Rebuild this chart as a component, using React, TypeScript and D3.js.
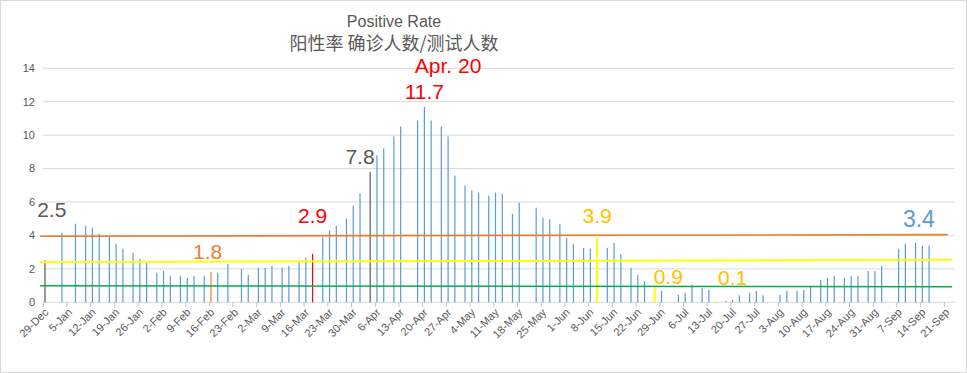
import React from 'react';
import * as d3 from 'd3';

// dates as shown on the chart (axis uses a non-leap calendar)
const dates = [
  '29-Dec', '3-Jan', '7-Jan', '10-Jan', '12-Jan', '14-Jan', '17-Jan', '19-Jan', '21-Jan', '24-Jan',
  '26-Jan', '28-Jan', '31-Jan', '2-Feb', '4-Feb', '7-Feb', '9-Feb', '11-Feb', '14-Feb', '16-Feb',
  '18-Feb', '21-Feb', '25-Feb', '27-Feb', '2-Mar', '4-Mar', '6-Mar', '9-Mar', '11-Mar', '14-Mar',
  '16-Mar', '18-Mar', '21-Mar', '23-Mar', '25-Mar', '28-Mar', '30-Mar', '1-Apr', '4-Apr', '6-Apr',
  '8-Apr', '11-Apr', '13-Apr', '18-Apr', '20-Apr', '22-Apr', '25-Apr', '27-Apr', '29-Apr', '2-May',
  '4-May', '6-May', '9-May', '11-May', '13-May', '16-May', '18-May', '23-May', '25-May', '27-May',
  '30-May', '1-Jun', '3-Jun', '6-Jun', '8-Jun', '10-Jun', '13-Jun', '15-Jun', '17-Jun', '20-Jun',
  '22-Jun', '24-Jun', '27-Jun', '29-Jun', '4-Jul', '6-Jul', '8-Jul', '11-Jul', '13-Jul', '15-Jul',
  '18-Jul', '20-Jul', '22-Jul', '25-Jul', '27-Jul', '29-Jul', '3-Aug', '5-Aug', '8-Aug', '10-Aug',
  '12-Aug', '15-Aug', '17-Aug', '19-Aug', '22-Aug', '24-Aug', '26-Aug', '29-Aug', '31-Aug', '2-Sep',
  '7-Sep', '9-Sep', '12-Sep', '14-Sep', '16-Sep',
];

// positive rate, %
const rates = [
  2.5, 4.16, 4.7, 4.58, 4.46, 4.1, 3.94, 3.5, 3.2, 2.96,
  2.6, 2.36, 1.76, 1.88, 1.58, 1.58, 1.46, 1.58, 1.58, 1.8,
  1.76, 2.3, 2.0, 1.64, 2.06, 2.06, 2.18, 2.06, 2.18, 2.48,
  2.66, 2.9, 3.88, 4.3, 4.58, 5.0, 5.78, 6.52, 7.8, 8.8,
  9.2, 9.92, 10.52, 10.88, 11.7, 10.88, 10.52, 9.92, 7.58, 6.98,
  6.68, 6.56, 6.38, 6.56, 6.5, 5.3, 5.96, 5.66, 5.06, 4.98,
  4.7, 3.86, 3.5, 3.26, 3.22, 3.9, 3.26, 3.56, 2.9, 2.06,
  1.64, 1.28, 0.9, 0.68, 0.44, 0.56, 1.04, 0.86, 0.74, 0.1,
  0.08, 0.14, 0.42, 0.56, 0.68, 0.42, 0.44, 0.68, 0.68, 0.74,
  0.98, 1.34, 1.46, 1.58, 1.46, 1.58, 1.58, 1.88, 1.88, 2.18,
  3.2, 3.5, 3.56, 3.38, 3.4,
];

const yTicks = [0, 2, 4, 6, 8, 10, 12, 14];

// highlighted days
const highlightDates = ['29-Dec', '16-Feb', '18-Mar', '4-Apr', '10-Jun', '27-Jun', '15-Jul'];
const highlightColors = ['#595959', '#ED7D31', '#FF0000', '#595959', '#FFFF00', '#FFFF00', '#FFFF00'];

// hand-drawn reference lines (start value, end value)
const refStart = [3.95, 2.4, 0.99];
const refEnd = [4.05, 2.55, 0.93];
const refColors = ['#ED7D31', '#FFFF00', '#00B050'];

// callouts
const noteTexts = ['2.5', '1.8', '2.9', '7.8', '11.7', 'Apr. 20', '3.9', '0.9', '0.1', '3.4'];
const noteDates = ['31-Dec', '15-Feb', '18-Mar', '1-Apr', '20-Apr', '27-Apr', '10-Jun', '1-Jul', '20-Jul', '13-Sep'];
const noteValues = [5.1, 2.6, 4.75, 8.3, 12.17, 13.72, 4.75, 1.1, 1.04, 4.5];
const noteColors = ['#595959', '#ED7D31', '#FF0000', '#595959', '#FF0000', '#FF0000', '#FFC000', '#FFC000', '#FFC000', '#5B9BD5'];

const W = 967;
const H = 373;
const FONT = '"Liberation Sans", Arial, sans-serif';

const parse = (s: string) => {
  const yr = s.endsWith('Dec') ? 2018 : 2019;
  return d3.utcParse('%d-%b-%Y')(`${s}-${yr}`) as Date;
};

export default function App() {
  const start = parse('29-Dec');
  const x = d3.scaleUtc().domain([start, parse('24-Sep')]).range([43.3, 954.5]);
  const y = d3.scaleLinear().domain([0, 14]).range([302.3, 68.3]);
  const day = x(d3.utcDay.offset(start, 1)) - x(start);
  const ticks = d3.range(0, 39).map((i) => d3.utcDay.offset(start, i * 7));
  const fmt = d3.utcFormat('%-d-%b');
  const [x0, x1] = x.range();

  const bars = dates.map((d, i) => {
    const h = highlightDates.indexOf(d);
    return { date: parse(d), value: rates[i], color: h >= 0 ? highlightColors[h] : '#5B9BD5', wide: h >= 4 && h <= 5 };
  });

  return (
    <svg width={W} height={H} style={{ position: 'absolute', left: 0, top: 0, background: '#fff' }} fontFamily={FONT}>
      <rect x={0.5} y={0.5} width={W - 1} height={H - 1} fill="#fff" stroke="#d9d9d9" />
      <text x={394} y={26.5} textAnchor="middle" fontSize={16} fill="#595959">Positive Rate</text>
      <text x={394} y={50} textAnchor="middle" fontSize={18} fill="#595959" fontFamily='"Noto Sans CJK SC", sans-serif'>阳性率 确诊人数/测试人数</text>

      {yTicks.map((t) => (
        <g key={t}>
          <line x1={x0} x2={x1} y1={y(t)} y2={y(t)} stroke="#d9d9d9" strokeWidth={1} />
          <text x={35} y={y(t)} dy="0.35em" textAnchor="end" fontSize={11} fill="#595959">{t}</text>
        </g>
      ))}

      {ticks.map((t, i) => (
        <g key={i}>
          <line x1={x(t)} x2={x(t)} y1={y(0)} y2={y(0) + 4.5} stroke="#bfbfbf" />
          <text transform={`translate(${x(t) + 3},${y(0) + 8}) rotate(-45)`} dy="0.35em" textAnchor="end" fontSize={11} fill="#595959">{fmt(t)}</text>
        </g>
      ))}

      {bars.map((b, i) => {
        const w = b.wide ? 2 : 1.2;
        return (
          <rect key={i} x={x(b.date) + day / 2 - w / 2} y={y(b.value)} width={w} height={y(0) - y(b.value)} fill={b.color} />
        );
      })}

      {refStart.map((v, i) => (
        <line key={i} x1={40} x2={i === 0 ? 947.7 : 952} y1={y(v)} y2={y(refEnd[i])} stroke={refColors[i]} strokeWidth={i === 1 ? 2 : 1.6} />
      ))}

      {noteTexts.map((t, i) => (
        <text key={i} x={x(parse(noteDates[i])) + day / 2} y={y(noteValues[i])} textAnchor="middle" fontSize={t === '3.4' ? 23 : 21} fill={noteColors[i]}>{t}</text>
      ))}
    </svg>
  );
}
